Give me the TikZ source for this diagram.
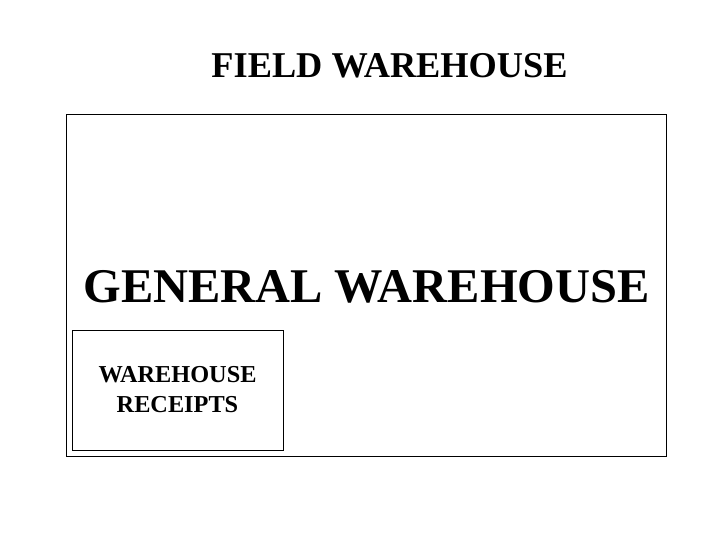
\documentclass[tikz,border=0pt]{standalone}
\usepackage{fontspec}
\setmainfont{Liberation Serif}
\begin{document}
\begin{tikzpicture}[x=1pt,y=-1pt,
    frame/.style={draw, line width=0.9pt},
    label/.style={font=\bfseries, inner sep=0pt, align=center}]
            \useasboundingbox (0,0) rectangle (720,540);
            % Title
            \node[label, font=\bfseries\fontsize{36.3}{40}\selectfont] (field) at (389.5,66) {FIELD WAREHOUSE};
            % Outer box
            \draw[frame] (66.5,114.5) rectangle (666,456.5);
            \node[label, font=\bfseries\fontsize{48.4}{56}\selectfont] (general) at (366.5,287) {GENERAL WAREHOUSE};
            % Receipts box
            \node[frame, minimum width=211pt, minimum height=120pt, inner sep=0pt] (box) at (177.5,390) {};
            \node[label, font=\bfseries\fontsize{24.3}{30}\selectfont] (receipts) at (box) {WAREHOUSE\\RECEIPTS};
        \end{tikzpicture}
\end{document}
